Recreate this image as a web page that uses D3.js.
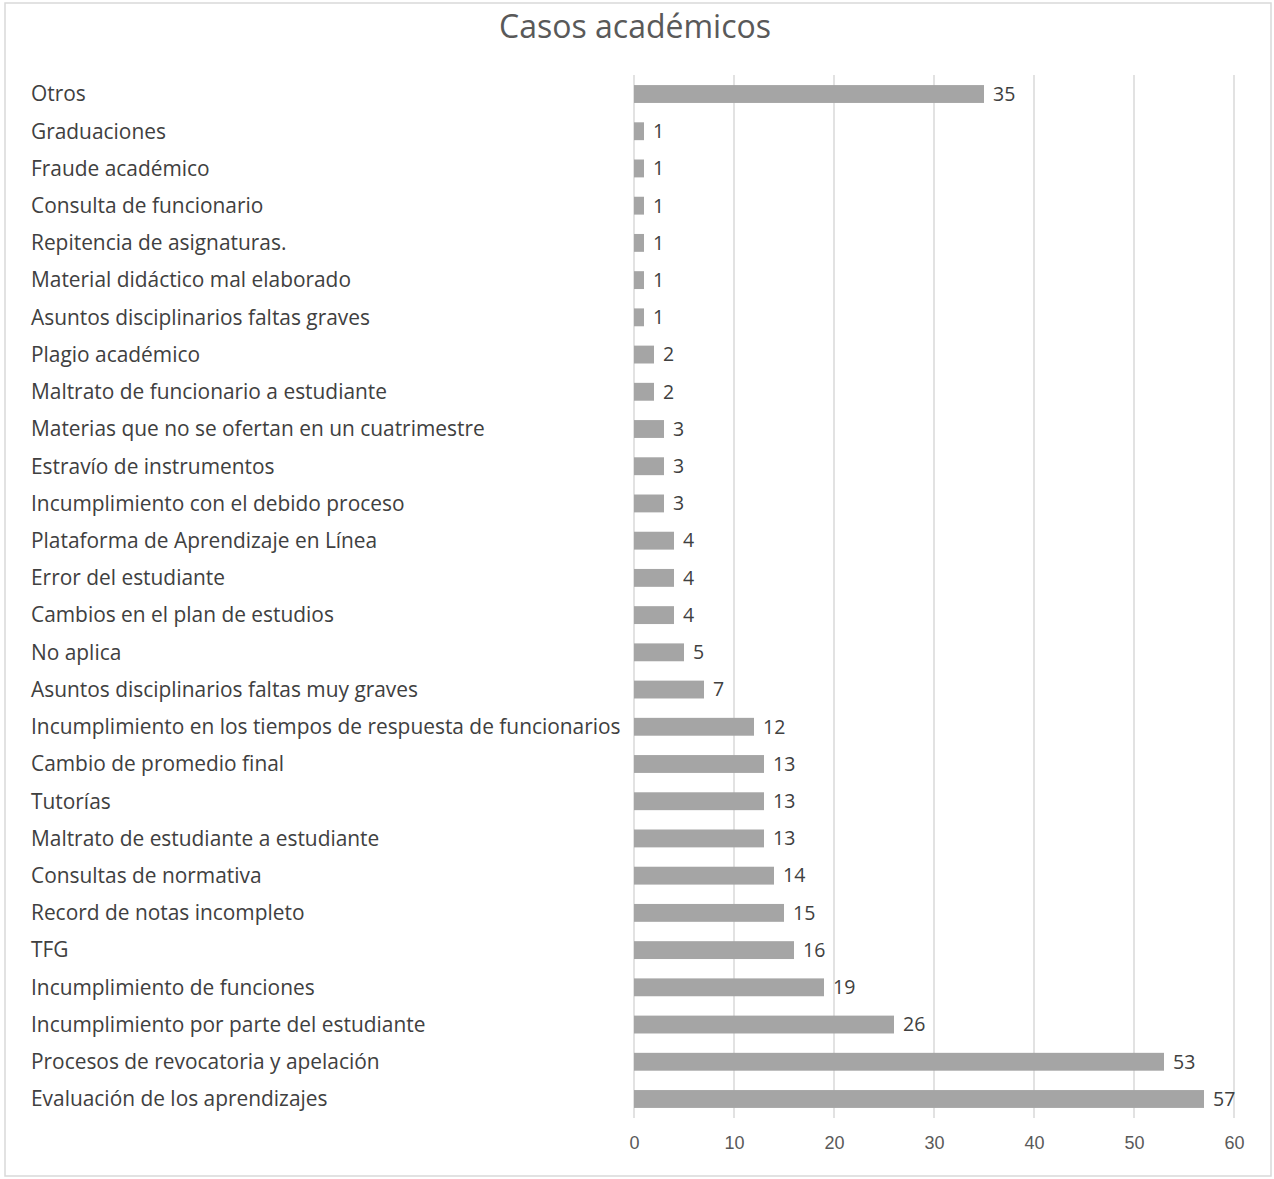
<!DOCTYPE html>
<html lang="es">
<head>
  <meta charset="UTF-8">
  <title>Casos académicos</title>
  <script src="https://d3js.org/d3.v7.min.js"></script>
  <style>
    body { margin: 0; background: #fff; font-family: "Open Sans", Arial, sans-serif; }
    .frame { fill: #fff; stroke: #d9d9d9; stroke-width: 1.5; }
    .title { fill: #595959; font-size: 32px; }
    .cat { fill: #404040; font-size: 18px; }
    .val { fill: #404040; font-size: 19.5px; }
    .tick text { fill: #595959; font-size: 18px; }
    .grid line { stroke: #d9d9d9; stroke-width: 1.5; }
    .bar { fill: #a5a5a5; }
  </style>
</head>
<body>
  <svg width="1274" height="1179"></svg>
  <script>
    const categories = [
      "Otros",
      "Graduaciones",
      "Fraude académico",
      "Consulta de funcionario",
      "Repitencia de asignaturas.",
      "Material didáctico mal elaborado",
      "Asuntos disciplinarios faltas graves",
      "Plagio académico",
      "Maltrato de funcionario a estudiante",
      "Materias que no se ofertan en un cuatrimestre",
      "Estravío de instrumentos",
      "Incumplimiento con el debido proceso",
      "Plataforma de Aprendizaje en Línea",
      "Error del estudiante",
      "Cambios en el plan de estudios",
      "No aplica",
      "Asuntos disciplinarios faltas muy graves",
      "Incumplimiento en los tiempos de respuesta de funcionarios",
      "Cambio de promedio final",
      "Tutorías",
      "Maltrato de estudiante a estudiante",
      "Consultas de normativa",
      "Record de notas incompleto",
      "TFG",
      "Incumplimiento de funciones",
      "Incumplimiento por parte del estudiante",
      "Procesos de revocatoria y apelación",
      "Evaluación de los aprendizajes"
    ];
    const values = [35, 1, 1, 1, 1, 1, 1, 2, 2, 3, 3, 3, 4, 4, 4, 5, 7, 12, 13, 13, 13, 14, 15, 16, 19, 26, 53, 57];
    const xTicks = [0, 10, 20, 30, 40, 50, 60];

    const data = categories.map((c, i) => ({ cat: c, value: values[i] }));

    const svg = d3.select("svg");
    svg.append("rect").attr("class", "frame")
      .attr("x", 5).attr("y", 3).attr("width", 1266).attr("height", 1173);

    svg.append("text").attr("class", "title")
      .attr("x", 635).attr("y", 38)
      .attr("text-anchor", "middle")
      .text("Casos académicos");

    const x = d3.scaleLinear().domain([0, 60]).range([634, 1234]);
    const y = d3.scaleBand().domain(categories).range([75.4, 1117.6])
      .paddingInner(0.52).paddingOuter(0.26);

    // gridlines
    svg.append("g").attr("class", "grid")
      .selectAll("line").data(xTicks).join("line")
      .attr("x1", d => x(d)).attr("x2", d => x(d))
      .attr("y1", 75).attr("y2", 1118);

    // x axis labels
    const xAxis = svg.append("g")
      .attr("transform", "translate(0,1118)")
      .call(d3.axisBottom(x).tickValues(xTicks).tickSize(0).tickPadding(18));
    xAxis.select(".domain").remove();

    // category labels
    svg.append("g").selectAll("text").data(data).join("text")
      .attr("class", "cat")
      .attr("x", 31)
      .attr("y", d => y(d.cat) + y.bandwidth() / 2)
      .attr("dy", "0.35em")
      .text(d => d.cat);

    svg.append("g").selectAll("rect").data(data).join("rect")
      .attr("class", "bar")
      .attr("x", x(0))
      .attr("y", d => y(d.cat))
      .attr("width", d => x(d.value) - x(0))
      .attr("height", y.bandwidth());

    svg.append("g").selectAll("text").data(data).join("text")
      .attr("class", "val")
      .attr("x", d => x(d.value) + 9)
      .attr("y", d => y(d.cat) + y.bandwidth() / 2)
      .attr("dy", "0.35em")
      .text(d => d.value);

    // squeeze category labels to match the narrower original font
    const longest = svg.selectAll(".cat").filter(d => d.cat.startsWith("Incumplimiento en los"));
    const w = longest.node().getComputedTextLength();
    const k = 590 / w;
    svg.selectAll(".cat").style("font-size", (18 * k) + "px");
  </script>
</body>
</html>
